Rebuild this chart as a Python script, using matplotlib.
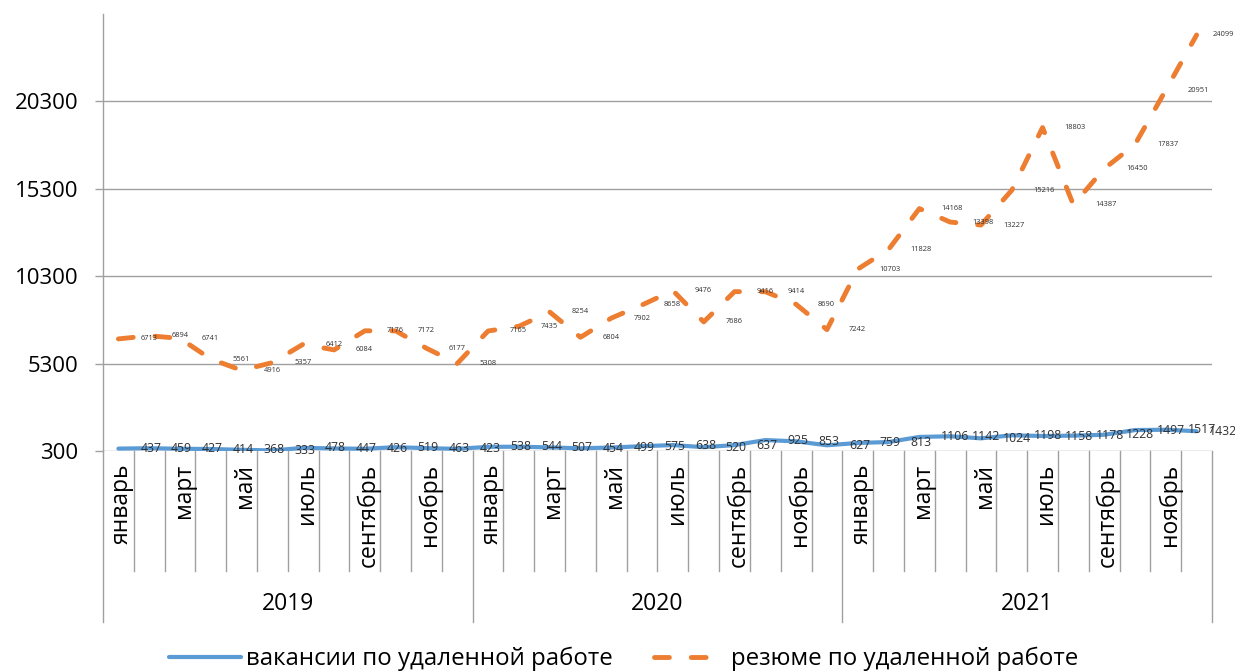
import matplotlib
matplotlib.use("Agg")
import matplotlib.pyplot as plt
from matplotlib.lines import Line2D
from matplotlib.transforms import blended_transform_factory

plt.rcParams['font.family'] = ['Open Sans', 'DejaVu Sans']

years = ['2019', '2020', '2021']
months = ['январь', 'февраль', 'март', 'апрель', 'май', 'июнь', 'июль', 'август',
          'сентябрь', 'октябрь', 'ноябрь', 'декабрь']
shown_months = ['январь', 'март', 'май', 'июль', 'сентябрь', 'ноябрь']

vacancies = [437, 459, 427, 414, 368, 333, 478, 447, 426, 519, 463, 423,
             538, 544, 507, 454, 499, 575, 638, 520, 637, 925, 853, 627,
             759, 813, 1106, 1142, 1024, 1198, 1158, 1178, 1228, 1497, 1517, 1432]
resumes = [6713, 6894, 6741, 5561, 4916, 5357, 6412, 6084, 7176, 7172, 6177, 5308,
           7165, 7435, 8254, 6804, 7902, 8658, 9476, 7686, 9416, 9414, 8690, 7242,
           10703, 11828, 14168, 13398, 13227, 15216, 18803, 14387, 16450, 17837, 20951, 24099]
yticks = [300, 5300, 10300, 15300, 20300]

label_vac = 'вакансии по удаленной работе'
label_res = 'резюме по удаленной работе'

W, H = 1235, 672
fig = plt.figure(figsize=(W / 100, H / 100), dpi=100)
left, right, top, bottom = 103, 1212, 14, 451
ax = fig.add_axes([left / W, 1 - bottom / H, (right - left) / W, (bottom - top) / H])

n = len(vacancies)
x = list(range(n))
blue = '#5B9BD5'
orange = '#ED7D31'

ax.plot(x, vacancies, color=blue, lw=3, solid_capstyle='round', zorder=3, label=label_vac)
ax.plot(x, resumes, color=orange, lw=3.5, linestyle=(0, (3.06, 4.5)),
        dash_capstyle='round', zorder=3, label=label_res)

for i, v in enumerate(vacancies):
    dx = 22 if i < n - 1 else 12
    ax.annotate(str(v), (i, v), xytext=(dx, 0), textcoords='offset pixels',
                ha='left', va='center', fontsize=8.8, color='#303030', zorder=4)
for i, v in enumerate(resumes):
    dx = 22 if i < n - 1 else 16
    ax.annotate(str(v), (i, v), xytext=(dx, 0), textcoords='offset pixels',
                ha='left', va='center', fontsize=5.4, color='#303030', zorder=4)

ax.set_xlim(-0.5, n - 0.5)
ax.set_ylim(300, 25300)
ax.set_yticks(yticks)
ax.set_yticklabels([str(t) for t in yticks], fontsize=16)
ax.tick_params(axis='y', length=5.8, width=1, color='#A0A0A0', pad=12)
ax.set_xticks([])
ax.yaxis.grid(True, color='#A0A0A0', lw=1)
ax.set_axisbelow(True)
for s in ['top', 'right', 'bottom']:
    ax.spines[s].set_visible(False)
ax.spines['left'].set_color('#A0A0A0')
ax.spines['left'].set_linewidth(1)

# category axis
tr = blended_transform_factory(ax.transData, fig.transFigure)
y_axis = 1 - bottom / H
y_month_end = 1 - 571 / H
y_year_end = 1 - 622 / H
for b in range(n + 1):
    xb = b - 0.5
    yend = y_year_end if b % 12 == 0 else y_month_end
    fig.add_artist(Line2D([xb, xb], [y_axis, yend], transform=tr, color='#A0A0A0', lw=1))

for i in range(n):
    m = months[i % 12]
    if m in shown_months:
        fig.text(i + 0.12, 1 - 464 / H, m, transform=tr, rotation=90, ha='center', va='top',
                 fontsize=16.5, color='black')
for k, yr in enumerate(years):
    fig.text(k * 12 + 5.5, 1 - 604 / H, yr, transform=tr, ha='center', va='center',
             fontsize=16.5, color='black')

fig.legend(loc='center', bbox_to_anchor=(0.505, 1 - 659 / H), ncol=2, frameon=False,
           fontsize=17.3, handlelength=3.0, handletextpad=0.2, columnspacing=1.7)

fig.savefig('out.png', dpi=100)
